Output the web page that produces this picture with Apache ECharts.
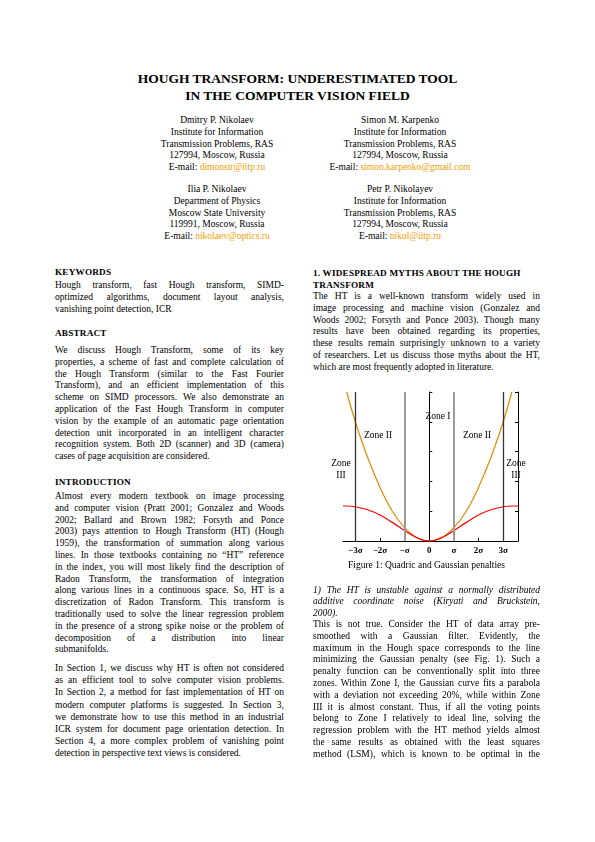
<!DOCTYPE html>
<html><head><meta charset="utf-8">
<script src="https://cdn.jsdelivr.net/npm/echarts@6/dist/echarts.min.js"></script>
<style>
body{margin:0;background:#fff;width:595px;height:842px;position:relative;font-family:"Liberation Serif","DejaVu Serif",serif;color:#000;overflow:hidden}
.b{position:absolute;font-size:9.5px}
.b div{height:11.8px;line-height:11.8px;white-space:nowrap}
.j div{text-align:justify;text-align-last:justify}
.j div.e{text-align-last:left}
.c{text-align:center}
.h{font-weight:bold;font-size:9.2px;letter-spacing:0.2px}
.m{color:#f39c00}
#chart{position:absolute;left:315px;top:385px;width:225px;height:178px}
</style></head><body>
<div class="b c" style="left:0;width:595px;top:70px;font-weight:bold;font-size:13.5px"><div style="height:17px;line-height:17px">HOUGH TRANSFORM: UNDERESTIMATED TOOL</div><div style="height:17px;line-height:17px">IN THE COMPUTER VISION FIELD</div></div>
<div class="b c" style="left:127px;width:180px;top:115px"><div>Dmitry P. Nikolaev</div><div>Institute for Information</div><div>Transmission Problems, RAS</div><div>127994, Moscow, Russia</div><div>E-mail: <span class="m">dimonstr@iitp.ru</span></div></div>
<div class="b c" style="left:310px;width:180px;top:115px"><div>Simon M. Karpenko</div><div>Institute for Information</div><div>Transmission Problems, RAS</div><div>127994, Moscow, Russia</div><div>E-mail: <span class="m">simon.karpenko@gmail.com</span></div></div>
<div class="b c" style="left:127px;width:180px;top:184px"><div>Ilia P. Nikolaev</div><div>Department of Physics</div><div>Moscow State University</div><div>119991, Moscow, Russia</div><div>E-mail: <span class="m">nikolaev@optics.ru</span></div></div>
<div class="b c" style="left:310px;width:180px;top:184px"><div>Petr P. Nikolayev</div><div>Institute for Information</div><div>Transmission Problems, RAS</div><div>127994, Moscow, Russia</div><div>E-mail: <span class="m">nikol@iitp.ru</span></div></div>

<div class="b h" style="left:55px;top:267px"><div>KEYWORDS</div></div>
<div class="b j" style="left:55px;width:229px;top:280px"><div>Hough transform, fast Hough transform, SIMD-</div><div>optimized algorithms, document layout analysis,</div><div class="e">vanishing point detection, ICR</div></div>
<div class="b h" style="left:55px;top:328px"><div>ABSTRACT</div></div>
<div class="b j" style="left:55px;width:229px;top:345px"><div>We discuss Hough Transform, some of its key</div><div>properties, a scheme of fast and complete calculation of</div><div>the Hough Transform (similar to the Fast Fourier</div><div>Transform), and an efficient implementation of this</div><div>scheme on SIMD processors. We also demonstrate an</div><div>application of the Fast Hough Transform in computer</div><div>vision by the example of an automatic page orientation</div><div>detection unit incorporated in an intelligent character</div><div>recognition system. Both 2D (scanner) and 3D (camera)</div><div class="e">cases of page acquisition are considered.</div></div>
<div class="b h" style="left:55px;top:477px"><div>INTRODUCTION</div></div>
<div class="b j" style="left:55px;width:229px;top:491px"><div>Almost every modern textbook on image processing</div><div>and computer vision (Pratt 2001; Gonzalez and Woods</div><div>2002; Ballard and Brown 1982; Forsyth and Ponce</div><div>2003) pays attention to Hough Transform (HT) (Hough</div><div>1959), the transformation of summation along various</div><div>lines. In those textbooks containing no “HT” reference</div><div>in the index, you will most likely find the description of</div><div>Radon Transform, the transformation of integration</div><div>along various lines in a continuous space. So, HT is a</div><div>discretization of Radon Transform. This transform is</div><div>traditionally used to solve the linear regression problem</div><div>in the presence of a strong spike noise or the problem of</div><div>decomposition of a distribution into linear</div><div class="e">submanifolds.</div></div>
<div class="b j" style="left:55px;width:229px;top:662px"><div style="height:12.2px;line-height:12.2px">In Section 1, we discuss why HT is often not considered</div><div style="height:12.2px;line-height:12.2px">as an efficient tool to solve computer vision problems.</div><div style="height:12.2px;line-height:12.2px">In Section 2, a method for fast implementation of HT on</div><div style="height:12.2px;line-height:12.2px">modern computer platforms is suggested. In Section 3,</div><div style="height:12.2px;line-height:12.2px">we demonstrate how to use this method in an industrial</div><div style="height:12.2px;line-height:12.2px">ICR system for document page orientation detection. In</div><div style="height:12.2px;line-height:12.2px">Section 4, a more complex problem of vanishing point</div><div class="e" style="height:12.2px;line-height:12.2px">detection in perspective text views is considered.</div></div>

<div class="b h" style="left:313px;top:268px"><div>1. WIDESPREAD MYTHS ABOUT THE HOUGH</div><div>TRANSFORM</div></div>
<div class="b j" style="left:313px;width:227px;top:291px"><div>The HT is a well-known transform widely used in</div><div>image processing and machine vision (Gonzalez and</div><div>Woods 2002; Forsyth and Ponce 2003). Though many</div><div>results have been obtained regarding its properties,</div><div>these results remain surprisingly unknown to a variety</div><div>of researchers. Let us discuss those myths about the HT,</div><div class="e">which are most frequently adopted in literature.</div></div>
<div id="chart"></div>
<div class="b c" style="left:313px;width:227px;top:560px"><div>Figure 1: Quadric and Gaussian penalties</div></div>
<div class="b j" style="left:313px;width:227px;top:585px;font-style:italic"><div style="height:11.3px;line-height:11.3px">1) The HT is unstable against a normally distributed</div><div style="height:11.3px;line-height:11.3px">additive coordinate noise (Kiryati and Bruckstein,</div><div class="e" style="height:11.3px;line-height:11.3px">2000).</div></div>
<div class="b j" style="left:313px;width:227px;top:619px;"><div>This is not true. Consider the HT of data array pre-</div><div>smoothed with a Gaussian filter. Evidently, the</div><div>maximum in the Hough space corresponds to the line</div><div>minimizing the Gaussian penalty (see Fig. 1). Such a</div><div>penalty function can be conventionally split into three</div><div>zones. Within Zone I, the Gaussian curve fits a parabola</div><div>with a deviation not exceeding 20%, while within Zone</div><div>III it is almost constant. Thus, if all the voting points</div><div>belong to Zone I relatively to ideal line, solving the</div><div>regression problem with the HT method yields almost</div><div>the same results as obtained with the least squares</div><div>method (LSM), which is known to be optimal in the</div></div>
<script>
const xs = [-3.5,-3.35,-3,-2.5,-2,-1.5,-1,-0.5,0,0.5,1,1.5,2,2.5,3,3.35,3.6];
const quadric = [null,10,8.0,5.6,3.6,2.0,0.9,0.22,0,0.22,0.9,2.0,3.6,5.6,8.0,10,null];
const gaussian = [2.35,2.35,2.3,2.1,1.75,1.25,0.7,0.22,0,0.22,0.7,1.25,1.75,2.1,2.3,2.35,2.35];
const zoneLines = [-3,-1,1,3];
const tickValues = [-3,-2,-1,0,1,2,3];
const tickLabels = ['−3σ','−2σ','−σ','0','σ','2σ','3σ'];
const chart = echarts.init(document.getElementById('chart'));
const font = '"Liberation Serif", serif';
const zt = (x,y,t)=>({type:'text',x:x,y:y,style:{text:t,font:'9.5px '+font,fill:'#000',align:'center',verticalAlign:'middle'}});
chart.setOption({
  animation:false,
  grid:{left:28,right:22,top:7,bottom:22},
  xAxis:{type:'value',min:-3.5,max:3.6,
    axisLine:{lineStyle:{color:'#000'}},splitLine:{show:false},
    axisTick:{inside:true,length:3,customValues:tickValues,lineStyle:{color:'#000'}},
    axisLabel:{customValues:tickValues,formatter:v=>tickLabels[tickValues.indexOf(v)],fontFamily:font,fontWeight:'bold',fontSize:9,color:'#000',margin:5}},
  yAxis:[
    {type:'value',min:0,max:10,interval:2,position:'left',axisLine:{show:true,lineStyle:{color:'#000'}},axisTick:{show:true,inside:true,length:3,lineStyle:{color:'#000'}},axisLabel:{show:false},splitLine:{show:false}},
    {type:'value',min:0,max:10,interval:2,position:'right',axisLine:{show:true,lineStyle:{color:'#000'}},axisTick:{show:true,inside:true,length:3,lineStyle:{color:'#000'}},axisLabel:{show:false},splitLine:{show:false}}
  ],
  series:[
    {type:'line',data:xs.map((x,i)=>[x,quadric[i]]),smooth:0.4,symbol:'none',lineStyle:{color:'#e08a00',width:1.2},z:3,clip:true,
     markLine:{silent:true,symbol:'none',label:{show:false},data:zoneLines.map(v=>({xAxis:v,lineStyle:{color:Math.abs(v)===1?'#9a9a9a':'#333',width:Math.abs(v)===1?2:1.3,type:'solid'}}))}},
    {type:'line',data:xs.map((x,i)=>[x,gaussian[i]]),smooth:0.4,symbol:'none',lineStyle:{color:'#ff0000',width:1.2},z:4}
  ],
  graphic:[zt(123,31,'Zone I'),zt(63,50,'Zone II'),zt(162,50,'Zone II'),zt(26,78,'Zone'),zt(26,90,'III'),zt(201,78,'Zone'),zt(201,90,'III')]
});
</script>
</body></html>
